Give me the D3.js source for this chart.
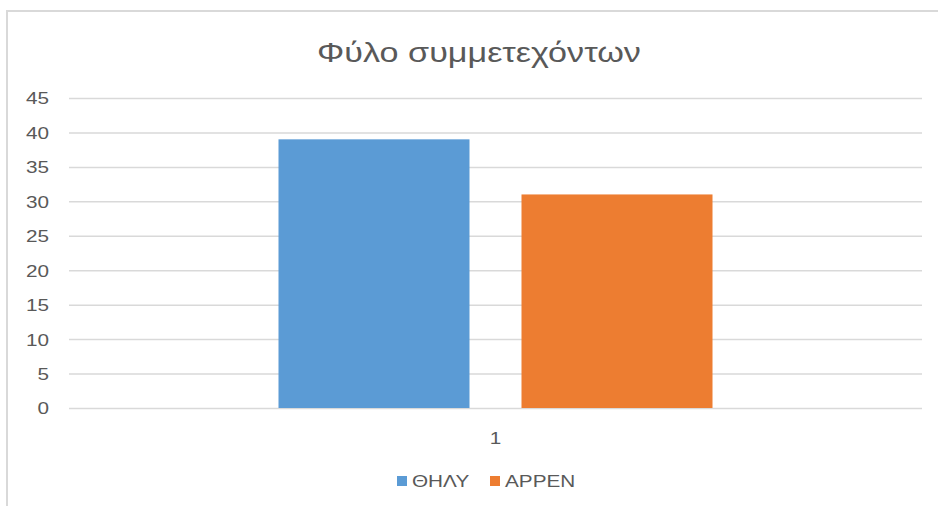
<!DOCTYPE html>
<html>
<head>
<meta charset="utf-8">
<script src="https://cdn.jsdelivr.net/npm/d3@7"></script>
<style>
  body { margin: 0; background: #fff; }
  svg { display: block; font-family: "Liberation Sans", Arial, sans-serif; }
  .grid line { stroke: #d9d9d9; stroke-width: 1.5; }
  .grid .domain { display: none; }
  .grid text { fill: #595959; font-size: 17px; }
</style>
</head>
<body>
<div id="chart"></div>
<script>
// chart data
var chartTitle = "Φύλο συμμετεχόντων";
var categories = ["1"];
var seriesNames = ["ΘΗΛΥ", "ΑΡΡΕΝ"];
var seriesValues = [[39], [31]];
var yTicks = [0, 5, 10, 15, 20, 25, 30, 35, 40, 45];
var seriesColors = ["#5b9bd5", "#ed7d31"];

var W = 938, H = 506;
var sx = 1.22; // the screenshot is a bit wide, stretch text to match

var svg = d3.select("#chart").append("svg")
    .attr("width", W)
    .attr("height", H);

// outer frame (only top and left edges show)
svg.append("path")
    .attr("d", "M7,506V11H938")
    .attr("fill", "none")
    .attr("stroke", "#d9d9d9")
    .attr("stroke-width", 2);

var margin = {top: 98, right: 16, bottom: 98, left: 69},
    width = W - margin.left - margin.right,
    height = H - margin.top - margin.bottom;

var g = svg.append("g")
    .attr("transform", "translate(" + margin.left + "," + margin.top + ")");

var y = d3.scaleLinear()
    .domain([0, 45])
    .range([height, 0]);

var x0 = d3.scaleBand()
    .domain(categories)
    .range([0, width])
    .paddingInner(0)
    .paddingOuter(0.4827);

var x1 = d3.scaleBand()
    .domain(seriesNames)
    .range([0, x0.bandwidth()])
    .paddingInner(0.214)
    .paddingOuter(0);

// gridlines + y labels
var yAxis = g.append("g")
    .attr("class", "grid")
    .call(d3.axisLeft(y).tickValues(yTicks).tickSize(-width).tickPadding(20));
yAxis.selectAll("text")
    .attr("x", -20 / sx)
    .attr("dy", "0.35em")
    .attr("transform", "scale(" + sx + ",1)");

// bars
var rows = categories.map(function(c, i) {
    return seriesNames.map(function(s, j) {
        return {cat: c, name: s, value: seriesValues[j][i], color: seriesColors[j]};
    });
});

g.selectAll(".cat")
    .data(rows)
    .enter().append("g")
    .attr("class", "cat")
    .attr("transform", function(d, i) { return "translate(" + x0(categories[i]) + ",0)"; })
    .selectAll("rect")
    .data(function(d) { return d; })
    .enter().append("rect")
    .attr("x", function(d) { return x1(d.name); })
    .attr("y", function(d) { return y(d.value); })
    .attr("width", x1.bandwidth())
    .attr("height", function(d) { return height - y(d.value); })
    .attr("fill", function(d) { return d.color; });

// category labels
g.selectAll(".catlabel")
    .data(categories)
    .enter().append("text")
    .attr("class", "catlabel")
    .attr("transform", function(d) {
        return "translate(" + (x0(d) + x0.bandwidth() / 2) + "," + (height + 36) + ") scale(" + sx + ",1)";
    })
    .attr("text-anchor", "middle")
    .attr("fill", "#595959")
    .style("font-size", "17px")
    .text(function(d) { return d; });

// title
svg.append("text")
    .attr("transform", "translate(479,62) scale(" + sx + ",1)")
    .attr("text-anchor", "middle")
    .attr("fill", "#595959")
    .style("font-size", "28px")
    .text(chartTitle);

// legend
var legendX = [397, 490];
var legend = svg.selectAll(".legend")
    .data(seriesNames)
    .enter().append("g")
    .attr("class", "legend")
    .attr("transform", function(d, i) { return "translate(" + legendX[i] + ",476)"; });

legend.append("rect")
    .attr("width", 10)
    .attr("height", 10)
    .attr("fill", function(d, i) { return seriesColors[i]; });

legend.append("text")
    .attr("transform", "translate(15,5) scale(" + sx + ",1)")
    .attr("dy", "0.35em")
    .attr("fill", "#595959")
    .style("font-size", "17px")
    .text(function(d) { return d; });
</script>
</body>
</html>
